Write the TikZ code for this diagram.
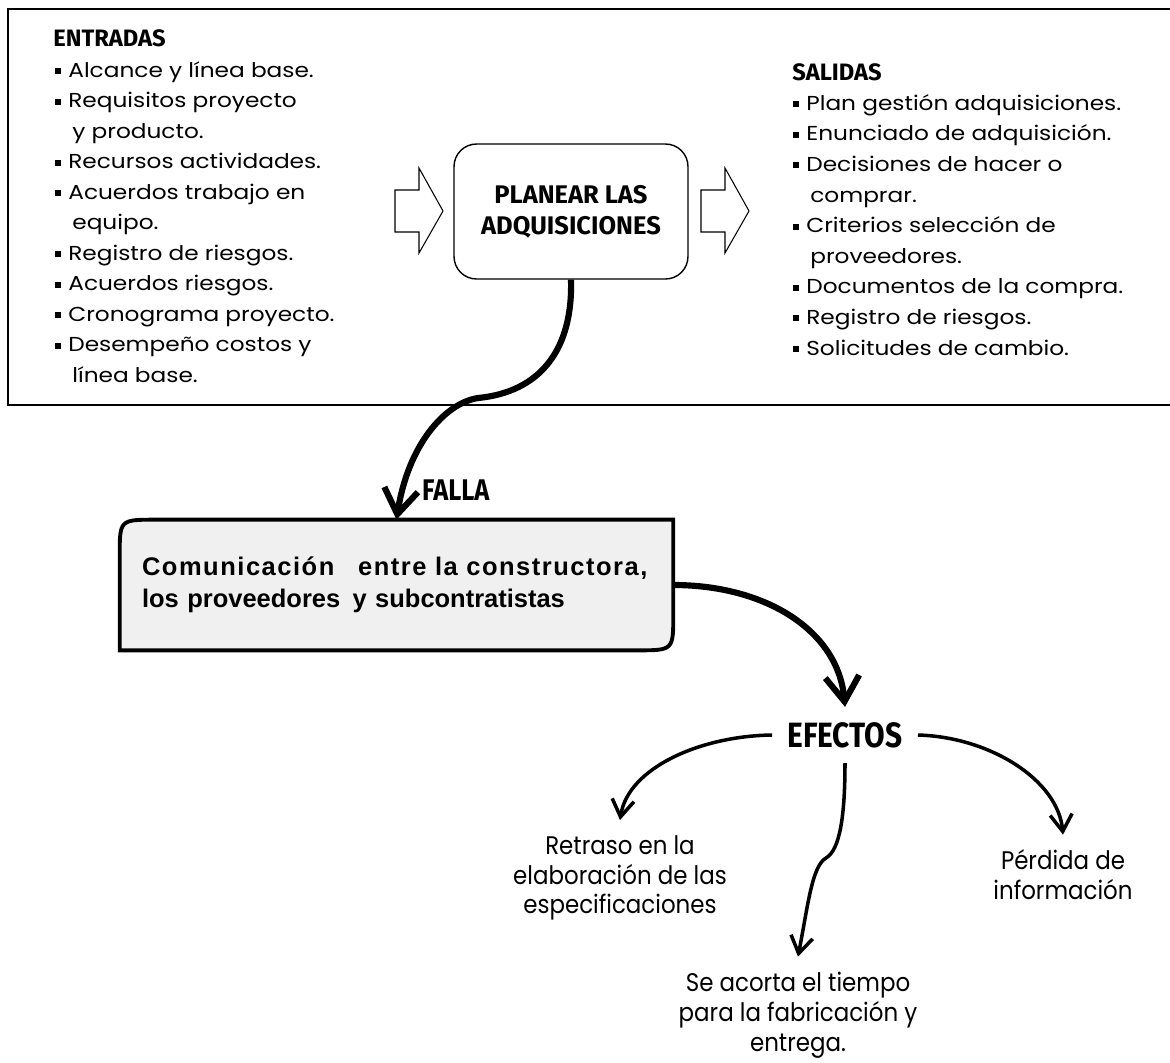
\documentclass[tikz,border=0pt]{standalone}
\usepackage{fontspec}
\setmainfont{Poppins}[FakeStretch=1.15]
\newfontfamily\headfont{Fira Sans}
\newfontfamily\condhead[FakeStretch=0.85]{Fira Sans}
\newfontfamily\effont[FakeStretch=0.9]{Poppins}
\newfontfamily\boxfont{Liberation Sans}
\newfontfamily\boxwide[LetterSpace=6]{Liberation Sans}
\usetikzlibrary{arrows.meta, positioning, calc}
\definecolor{boxgray}{HTML}{F0F0F0}
\pgfdeclarelayer{bg}
\pgfsetlayers{bg,main}
\newcommand{\bul}{\rule[0.06cm]{0.12cm}{0.12cm}\hspace{0.14cm}}
\newcommand{\cnt}{\hspace*{0.34cm}}

\begin{document}
\begin{tikzpicture}[x=0.02cm, y=-0.02cm,
  item/.style={anchor=west, inner sep=0, font=\fontsize{11.5}{13}\selectfont,
    text height=8.5pt, text depth=2.5pt},
  head/.style={anchor=west, inner sep=0, font=\headfont\bfseries\fontsize{13.5}{15}\selectfont},
  planbox/.style={draw, line width=0.8pt, rounded corners=0.45cm, minimum width=4.68cm,
    minimum height=2.7cm, align=center, font=\headfont\bfseries\fontsize{14.5}{17.6}\selectfont},
  failbox/.style={text width=10.18cm, align=left, minimum height=2.6cm, inner xsep=0.44cm,
    inner ysep=0, font=\boxfont\bfseries\fontsize{14.5}{18}\selectfont},
  blockarr/.style={draw, line width=0.6pt},
  frame/.style={draw, line width=0.9pt},
  label/.style={font=\condhead\bfseries\fontsize{17}{19}\selectfont},
  fxlabel/.style={font=\condhead\bfseries\fontsize{20}{22}\selectfont, inner xsep=0.3cm, inner ysep=0.3cm},
  efx/.style={font=\effont\fontsize{14.5}{17}\selectfont, align=center, inner sep=0.3cm},
  bigarr/.style={-{Straight Barb[length=0.5cm, width=0.68cm]}, line width=3.5pt},
  fxarr/.style={-{Straight Barb[length=0.34cm, width=0.44cm]}, line width=2pt}
]
\useasboundingbox (0,0) rectangle (1170,1062);

\draw[frame] (1180,9) -- (8,9) -- (8,405) -- (1180,405);

\node[head] (inhead) at (53,38) {ENTRADAS};
\foreach \t [count=\i from 0] in {\bul Alcance y línea base., \bul Requisitos proyecto,
    \cnt y producto., \bul Recursos actividades., \bul Acuerdos trabajo en, \cnt equipo.,
    \bul Registro de riesgos., \bul Acuerdos riesgos., \bul Cronograma proyecto.,
    \bul Desempeño costos y, \cnt línea base.}
  \node[item] (in\i) at (55,72+30.5*\i) {\t};

\node[head] (outhead) at (792,72) {SALIDAS};
\foreach \t [count=\i from 0] in {\bul Plan gestión adquisiciones., \bul Enunciado de adquisición.,
    \bul Decisiones de hacer o, \cnt comprar., \bul Criterios selección de, \cnt proveedores.,
    \bul Documentos de la compra., \bul Registro de riesgos., \bul Solicitudes de cambio.}
  \node[item] (out\i) at (793,105+30.6*\i) {\t};

\node[planbox] (plan) at (571,211.5) {PLANEAR LAS\\ADQUISICIONES};
\draw[blockarr] (395,190) -- (419,190) -- (419,168) -- (443,211) -- (419,253) -- (419,232) -- (395,232) -- cycle;
\draw[blockarr] (701,190) -- (725,190) -- (725,168) -- (749,211) -- (725,253) -- (725,232) -- (701,232) -- cycle;

\node[failbox] (fail) at (396.5,585)
  {\mbox{\boxwide\bfseries\fontsize{14.5}{18}\selectfont Comunicación\hspace{0.6em} entre la constructora,}\\los proveedores\hspace{0.15em} y subcontratistas};
\begin{pgfonlayer}{bg}
\draw[line width=2.2pt, fill=boxgray] (fail.south west) -- ($(fail.north west)+(0,36)$)
  .. controls (fail.north west) .. ($(fail.north west)+(36,0)$) -- (fail.north east)
  -- ($(fail.south east)+(0,-36)$) .. controls (fail.south east) .. ($(fail.south east)+(-36,0)$)
  -- cycle;
\end{pgfonlayer}
\node[label, anchor=west] (falla) at (416,490) {FALLA};

\node[fxlabel] (fx) at (845,735) {EFECTOS};
\node[efx] (ret) at (620,878) {Retraso en la\\elaboración de las\\especificaciones};
\node[efx] (per) at (1063,875) {Pérdida de\\información};
\node[efx] (cut) at (798,1015) {Se acorta el tiempo\\para la fabricación y\\entrega.};

\coordinate (bend) at (478,398);
\coordinate (kink) at (826,858);
\draw[bigarr] (plan.south) .. controls (573,350) and (540,392) .. (bend)
  .. controls (445,403) and (408,445) .. (fail.north);
\draw[bigarr] (fail.east) .. controls (765,585) and (838,630) .. (fx.north);
\draw[fxarr] (fx.west) .. controls (700,736) and (628,768) .. (ret.north);
\draw[fxarr] (fx.east) .. controls (990,737) and (1058,780) .. (per.north);
\draw[fxarr] (fx.south) .. controls (845,815) and (840,850) .. (kink)
  .. controls (812,866) and (808,905) .. (cut.north);
\end{tikzpicture}
\end{document}
